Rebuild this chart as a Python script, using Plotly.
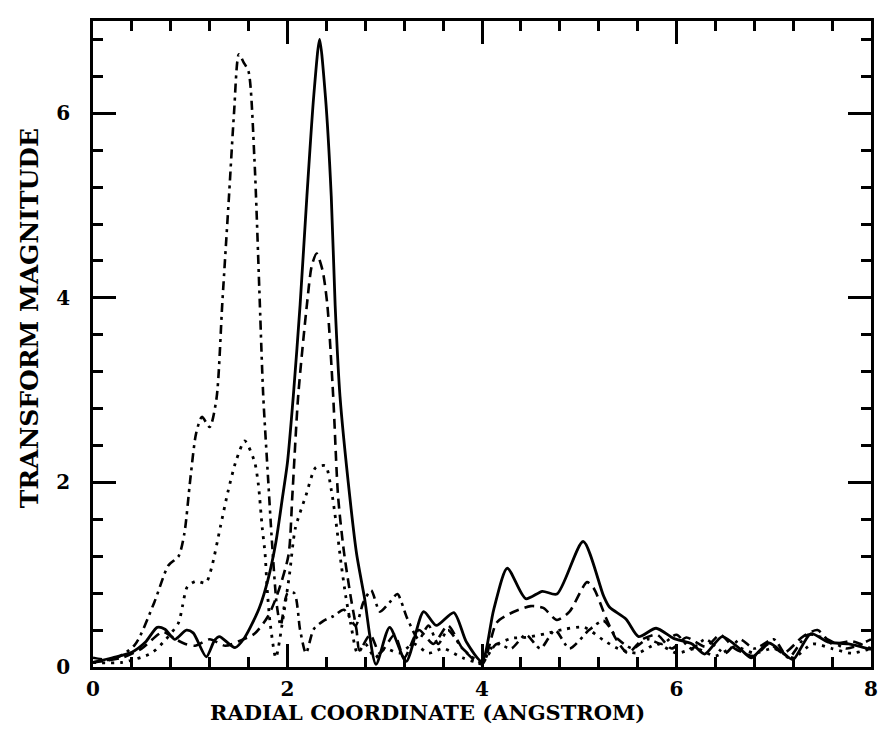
import plotly.graph_objects as go

# ---- data ----
solid_x = [0.0, 0.2, 0.40, 0.54, 0.66, 0.74, 0.84, 0.96, 1.03, 1.165, 1.25, 1.30, 1.46, 1.56, 1.71, 1.80, 1.88, 1.95, 2.0, 2.06,
           2.13, 2.2, 2.27, 2.33, 2.39, 2.45, 2.49, 2.54, 2.64, 2.71, 2.79, 2.91, 3.05, 3.22, 3.40, 3.53, 3.71, 3.84, 4.0, 4.12,
           4.26, 4.45, 4.62, 4.77, 5.04, 5.25, 5.31, 5.48, 5.61, 5.79, 5.97, 6.16, 6.29, 6.47, 6.67, 6.77, 6.95, 7.12, 7.2,
           7.38, 7.56, 7.77, 8.0]
solid_y = [0.05, 0.1, 0.16, 0.27, 0.43, 0.41, 0.30, 0.40, 0.37, 0.11, 0.29, 0.33, 0.21, 0.32, 0.64, 0.95, 1.35, 1.85, 2.22, 2.94,
           3.93, 5.11, 6.19, 6.80, 6.18, 5.10, 3.92, 2.93, 1.85, 1.23, 0.76, 0.03, 0.43, 0.06, 0.60, 0.45, 0.59, 0.27, 0.06, 0.62,
           1.07, 0.74, 0.82, 0.79, 1.36, 0.77, 0.65, 0.52, 0.33, 0.42, 0.31, 0.25, 0.14, 0.33, 0.18, 0.10, 0.26, 0.13, 0.08,
           0.36, 0.27, 0.25, 0.19]

dashed_x = [0.0, 0.3, 0.5, 0.72, 0.85, 0.95, 1.05, 1.2, 1.36, 1.5, 1.66, 1.8, 1.9, 2.01, 2.05, 2.11, 2.2, 2.25, 2.30, 2.36,
            2.41, 2.47, 2.52, 2.58, 2.65, 2.71, 2.74, 2.85, 2.95, 3.1, 3.2, 3.35, 3.5, 3.65, 3.8, 4.0, 4.15, 4.29, 4.50, 4.63,
            4.77, 4.9, 5.08, 5.15, 5.28, 5.38, 5.5, 5.65, 5.8, 5.95, 6.1, 6.3, 6.45, 6.6, 6.8, 6.95, 7.1, 7.3, 7.45, 7.6, 7.8, 8.0]
dashed_y = [0.05, 0.1, 0.2, 0.38, 0.3, 0.25, 0.23, 0.3, 0.23, 0.28, 0.36, 0.55, 0.8, 1.21, 1.86, 2.94, 3.93, 4.35, 4.48, 4.3,
            3.92, 2.93, 1.85, 1.25, 0.76, 0.40, 0.18, 0.35, 0.15, 0.35, 0.1, 0.4, 0.25, 0.45, 0.2, 0.03, 0.48, 0.58, 0.66, 0.64,
            0.51, 0.60, 0.92, 0.85, 0.52, 0.30, 0.15, 0.3, 0.35, 0.2, 0.32, 0.22, 0.35, 0.2, 0.12, 0.25, 0.15, 0.33, 0.4, 0.25, 0.28, 0.2]

dashdot_x = [0.0, 0.2, 0.43, 0.63, 0.775, 0.88, 0.94, 1.0, 1.06, 1.12, 1.20, 1.27, 1.33, 1.40, 1.45, 1.50, 1.55, 1.60, 1.66,
             1.71, 1.75, 1.80, 1.84, 1.89, 1.93, 2.0, 2.07, 2.13, 2.19, 2.27, 2.37, 2.47, 2.58, 2.7, 2.78, 2.86, 2.95, 3.05,
             3.13, 3.23, 3.35, 3.45, 3.55, 3.65, 3.8, 4.0, 4.15, 4.3, 4.45, 4.6, 4.75, 4.9, 5.1, 5.25, 5.4, 5.55, 5.7, 5.85,
             6.0, 6.15, 6.3, 6.5, 6.65, 6.8, 7.0, 7.15, 7.35, 7.55, 7.75, 8.0]
dashdot_y = [0.1, 0.08, 0.24, 0.70, 1.10, 1.20, 1.45, 2.03, 2.53, 2.71, 2.60, 2.91, 3.95, 5.13, 6.0, 6.64, 6.55, 6.45, 5.5,
             4.1, 2.95, 2.05, 1.36, 0.67, 0.45, 0.8, 0.8, 0.4, 0.15, 0.41, 0.5, 0.55, 0.62, 0.45, 0.7, 0.83, 0.6, 0.7,
             0.79, 0.53, 0.3, 0.45, 0.25, 0.4, 0.2, 0.05, 0.25, 0.2, 0.35, 0.2, 0.4, 0.2, 0.4, 0.5, 0.3, 0.2, 0.3, 0.25,
             0.35, 0.2, 0.3, 0.15, 0.3, 0.2, 0.3, 0.1, 0.35, 0.3, 0.2, 0.3]

dotted_x = [0.0, 0.3, 0.6, 0.75, 0.88, 0.92, 0.97, 1.06, 1.16, 1.22, 1.31, 1.39, 1.47, 1.56, 1.66, 1.70, 1.74, 1.77, 1.79,
            1.82, 1.88, 1.95, 2.02, 2.08, 2.19, 2.29, 2.39, 2.45, 2.50, 2.55, 2.6, 2.65, 2.72, 2.8, 2.9, 3.0, 3.15, 3.3, 3.45,
            3.6, 3.8, 4.0, 4.1, 4.3, 4.45, 4.65, 4.85, 5.05, 5.25, 5.4, 5.6, 5.8, 6.0, 6.2, 6.4, 6.6, 6.8, 7.0, 7.2, 7.4,
            7.6, 7.8, 8.0]
dotted_y = [0.05, 0.05, 0.15, 0.3, 0.48, 0.66, 0.87, 0.93, 0.91, 1.08, 1.52, 1.91, 2.23, 2.45, 2.23, 1.98, 1.51, 1.22, 0.86,
            0.49, 0.1, 0.5, 1.0, 1.50, 1.86, 2.16, 2.18, 1.92, 1.56, 1.13, 0.76, 0.47, 0.15, 0.25, 0.1, 0.2, 0.15, 0.25, 0.15,
            0.2, 0.1, 0.05, 0.21, 0.31, 0.32, 0.36, 0.41, 0.43, 0.29, 0.2, 0.15, 0.25, 0.15, 0.2, 0.12, 0.22, 0.15, 0.2, 0.1,
            0.25, 0.2, 0.15, 0.2]

x_ticks = [0, 2, 4, 6, 8]
y_ticks = [0, 2, 4, 6]
x_title = "RADIAL COORDINATE (ANGSTROM)"
y_title = "TRANSFORM MAGNITUDE"

FONT = "DejaVu Serif"

fig = go.Figure()
fig.add_trace(go.Scatter(x=solid_x, y=solid_y, mode="lines",
                         line=dict(color="black", width=2.8, shape="spline", smoothing=0.7)))
fig.add_trace(go.Scatter(x=dashed_x, y=dashed_y, mode="lines",
                         line=dict(color="black", width=2.6, dash="10px,6px", shape="spline", smoothing=0.7)))
fig.add_trace(go.Scatter(x=dashdot_x, y=dashdot_y, mode="lines",
                         line=dict(color="black", width=2.6, dash="9px,5px,3px,5px", shape="spline", smoothing=0.7)))
fig.add_trace(go.Scatter(x=dotted_x, y=dotted_y, mode="lines",
                         line=dict(color="black", width=2.8, dash="3px,6px", shape="spline", smoothing=0.7)))

axis_common = dict(
    showline=True, linecolor="black", linewidth=2.8, mirror="allticks",
    ticks="inside", ticklen=23, tickwidth=2.5, tickcolor="black",
    showgrid=False, zeroline=False,
    tickfont=dict(family=FONT, size=20, color="black", weight="bold"),
    minor=dict(ticks="inside", ticklen=10, tickwidth=2.5, tickcolor="black", dtick=0.4, showgrid=False),
)

fig.update_xaxes(range=[0, 8], tickvals=x_ticks, ticktext=[str(v) for v in x_ticks], ticklabelstandoff=2, **axis_common)
fig.update_yaxes(range=[0, 7], tickvals=y_ticks, ticktext=[str(v) for v in y_ticks], ticklabelstandoff=16, **axis_common)

fig.update_layout(
    width=883, height=738,
    margin=dict(l=93, r=5, t=21, b=71),
    paper_bgcolor="white", plot_bgcolor="white",
    showlegend=False,
    annotations=[
        dict(text=x_title, xref="paper", yref="paper", x=0.43, y=-0.07, xanchor="center", yanchor="middle",
             showarrow=False, font=dict(family=FONT, size=21, color="black", weight="bold")),
        dict(text=y_title, xref="paper", yref="paper", x=-0.082, y=0.54, xanchor="center", yanchor="middle",
             textangle=-90, showarrow=False, font=dict(family=FONT, size=25, color="black", weight="bold")),
    ],
)

fig.write_html("out.html")
